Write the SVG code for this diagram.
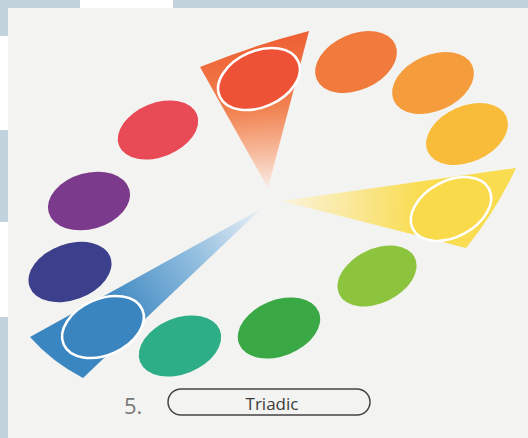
<svg xmlns="http://www.w3.org/2000/svg" width="528" height="438" viewBox="0 0 528 438">
<defs>
<style>
.ring{stroke:#ffffff;stroke-width:2.6}
.lbl{font-family:"Open Sans","Liberation Sans",sans-serif}
</style>
<linearGradient id="gRed" gradientUnits="userSpaceOnUse" x1="255" y1="42" x2="268" y2="188">
<stop offset="0" stop-color="#ee6236"/>
<stop offset="0.45" stop-color="#f1804f"/>
<stop offset="0.7" stop-color="#f6b08e"/>
<stop offset="1" stop-color="#f9ece4"/>
</linearGradient>
<linearGradient id="gYel" gradientUnits="userSpaceOnUse" x1="282" y1="201" x2="420" y2="205">
<stop offset="0" stop-color="#faf4da"/>
<stop offset="0.5" stop-color="#fae89a"/>
<stop offset="1" stop-color="#f9dc50"/>
</linearGradient>
<linearGradient id="gBlu" gradientUnits="userSpaceOnUse" x1="261" y1="209" x2="110" y2="310">
<stop offset="0" stop-color="#eaf0f6"/>
<stop offset="0.45" stop-color="#92bedf"/>
<stop offset="1" stop-color="#3a86c0"/>
</linearGradient>
</defs>
<rect x="0" y="0" width="528" height="438" fill="#f3f3f1"/>
<g id="page-edges">
<rect x="0" y="0" width="80" height="8" fill="#c3d3de"/>
<rect x="80" y="0" width="93" height="8" fill="#ffffff"/>
<rect x="173" y="0" width="355" height="8" fill="#c3d3de"/>
<rect x="0" y="0" width="8" height="36" fill="#c3d3de"/>
<rect x="0" y="36" width="8" height="94" fill="#ffffff"/>
<rect x="0" y="130" width="8" height="92" fill="#c3d3de"/>
<rect x="0" y="222" width="8" height="95" fill="#ffffff"/>
<rect x="0" y="317" width="8" height="121" fill="#c3d3de"/>
</g>
<g id="wedges">
<path id="wedge-red" d="M268,188 L200,67 Q254,45 309,31 Z" fill="url(#gRed)"/>
<path id="wedge-yellow" d="M282,201 L516,168 Q496,211 466,248 Z" fill="url(#gYel)"/>
<path id="wedge-blue" d="M261,209 L30,337 Q52,362 83,378 Z" fill="url(#gBlu)"/>
</g>
<g id="e-redorange"><ellipse cx="259" cy="79" rx="43" ry="28" transform="rotate(-24 259 79)" fill="#ee5236" class="ring"/></g>
<g id="e-orange"><ellipse cx="356" cy="62" rx="43" ry="28" transform="rotate(-24 356 62)" fill="#f07b3c"/></g>
<g id="e-lightorange"><ellipse cx="433" cy="83" rx="43" ry="28" transform="rotate(-24 433 83)" fill="#f59c3c"/></g>
<g id="e-yelloworange"><ellipse cx="467" cy="134" rx="43" ry="28" transform="rotate(-24 467 134)" fill="#f9bc3a"/></g>
<g id="e-yellow"><ellipse cx="451" cy="209" rx="43" ry="28" transform="rotate(-28 451 209)" fill="#f9da4a" class="ring"/></g>
<g id="e-yellowgreen"><ellipse cx="377" cy="276" rx="42" ry="27" transform="rotate(-26 377 276)" fill="#8cc43e"/></g>
<g id="e-green"><ellipse cx="279" cy="328" rx="43" ry="28" transform="rotate(-22 279 328)" fill="#3aa945"/></g>
<g id="e-bluegreen"><ellipse cx="180" cy="346" rx="43" ry="28" transform="rotate(-22 180 346)" fill="#2eae86"/></g>
<g id="e-blue"><ellipse cx="103" cy="327" rx="43" ry="28" transform="rotate(-24 103 327)" fill="#3a85bf" class="ring"/></g>
<g id="e-indigo"><ellipse cx="70" cy="272" rx="43" ry="28" transform="rotate(-20 70 272)" fill="#3b3f8c"/></g>
<g id="e-purple"><ellipse cx="89" cy="201" rx="42" ry="28" transform="rotate(-16 89 201)" fill="#7c3a8c"/></g>
<g id="e-red"><ellipse cx="158" cy="130" rx="42" ry="27" transform="rotate(-22 158 130)" fill="#e84a56"/></g>
<g id="label">
<text class="lbl" x="124" y="414" font-size="22" fill="#777">5.</text>
<rect x="168" y="389" width="202" height="26" rx="13" ry="13" fill="none" stroke="#444" stroke-width="1.5"/>
<text class="lbl" x="272" y="410" font-size="17" font-weight="500" fill="#3c3c3c" text-anchor="middle">Triadic</text>
</g>
</svg>
